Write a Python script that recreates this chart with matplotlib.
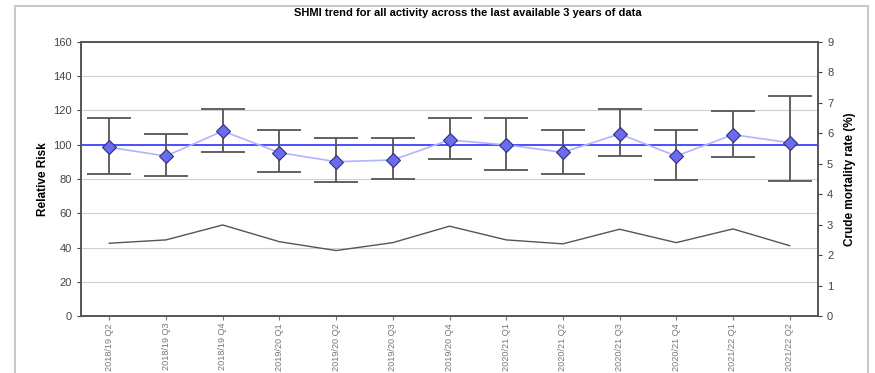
import numpy as np
import matplotlib.pyplot as plt
from matplotlib.patches import Rectangle

plt.rcParams['font.family'] = ['Liberation Sans', 'DejaVu Sans']

periods = ['2018/19 Q2', '2018/19 Q3', '2018/19 Q4', '2019/20 Q1', '2019/20 Q2',
           '2019/20 Q3', '2019/20 Q4', '2020/21 Q1', '2020/21 Q2', '2020/21 Q3',
           '2020/21 Q4', '2021/22 Q1', '2021/22 Q2']
shmi = [98.5, 93.4, 108.0, 95.4, 90.1, 91.1, 102.8, 99.9, 95.6, 106.3, 93.4, 105.9, 101.2]
shmi_upper = [115.8, 106.3, 121.0, 108.8, 103.8, 103.8, 115.8, 115.8, 108.8, 120.9, 108.8, 119.5, 128.7]
shmi_lower = [82.9, 81.8, 95.6, 83.9, 78.4, 80.2, 91.5, 85.4, 82.9, 93.6, 79.4, 93.0, 79.0]
crude_rate = [2.39, 2.50, 2.99, 2.44, 2.15, 2.41, 2.95, 2.50, 2.37, 2.85, 2.41, 2.86, 2.31]
expected = 100

x = np.arange(len(periods))
shmi = np.array(shmi)
yerr = [shmi - np.array(shmi_lower), np.array(shmi_upper) - shmi]

fig = plt.figure(figsize=(8.75, 3.73), dpi=100)
ax = fig.add_axes([81 / 875, 1 - 316 / 373, 737 / 875, 274 / 373])

# frame round the whole chart
fig.patches.append(Rectangle((15 / 875, -0.05), 853 / 875, 1.05 - 6 / 373,
                             transform=fig.transFigure, fill=False,
                             edgecolor='#c8c8c8', lw=1.5))

ax.set_ylim(0, 160)
ax.set_xlim(-0.5, len(periods) - 0.5)
ax.set_yticks(range(0, 161, 20))
ax.yaxis.grid(True, color='#d0d0d0', lw=0.8)
ax.set_axisbelow(True)

ax.axhline(expected, color='#4f4fff', lw=1.4, zorder=2)
ax.errorbar(x, shmi, yerr=yerr, fmt='none', ecolor='#555555', elinewidth=1.3,
            capsize=16, capthick=1.3, zorder=3)
ax.plot(x, shmi, color='#b0b4ff', lw=1.2, zorder=4)
ax.plot(x, shmi, 'D', ms=7.5, color='#6b6bf0', mec='#30307a', mew=0.8, zorder=5)

ax.set_xticks(x)
ax.set_xticklabels(periods, rotation=90, fontsize=6.6, color='#333333')
ax.tick_params(axis='y', labelsize=8, colors='#444444', length=3)
ax.tick_params(axis='x', length=3, pad=2, colors='#777777')
ax.set_ylabel('Relative Risk', fontsize=8.5, fontweight='bold', labelpad=3)

ax2 = ax.twinx()
ax2.plot(x, crude_rate, color='#555555', lw=1.0)
ax2.set_ylim(0, 9)
ax2.set_yticks(range(0, 10))
ax2.tick_params(axis='y', labelsize=8, colors='#444444', length=3)
ax2.set_ylabel('Crude mortality rate (%)', fontsize=8.5, fontweight='bold', labelpad=8)

for a in (ax, ax2):
    for s in a.spines.values():
        s.set_color('#555555')
        s.set_linewidth(1.2)

fig.text(468 / 875, 1 - 13 / 373,
         'SHMI trend for all activity across the last available 3 years of data',
         ha='center', va='center', fontsize=8, fontweight='bold')

fig.savefig('out.png', dpi=100)
